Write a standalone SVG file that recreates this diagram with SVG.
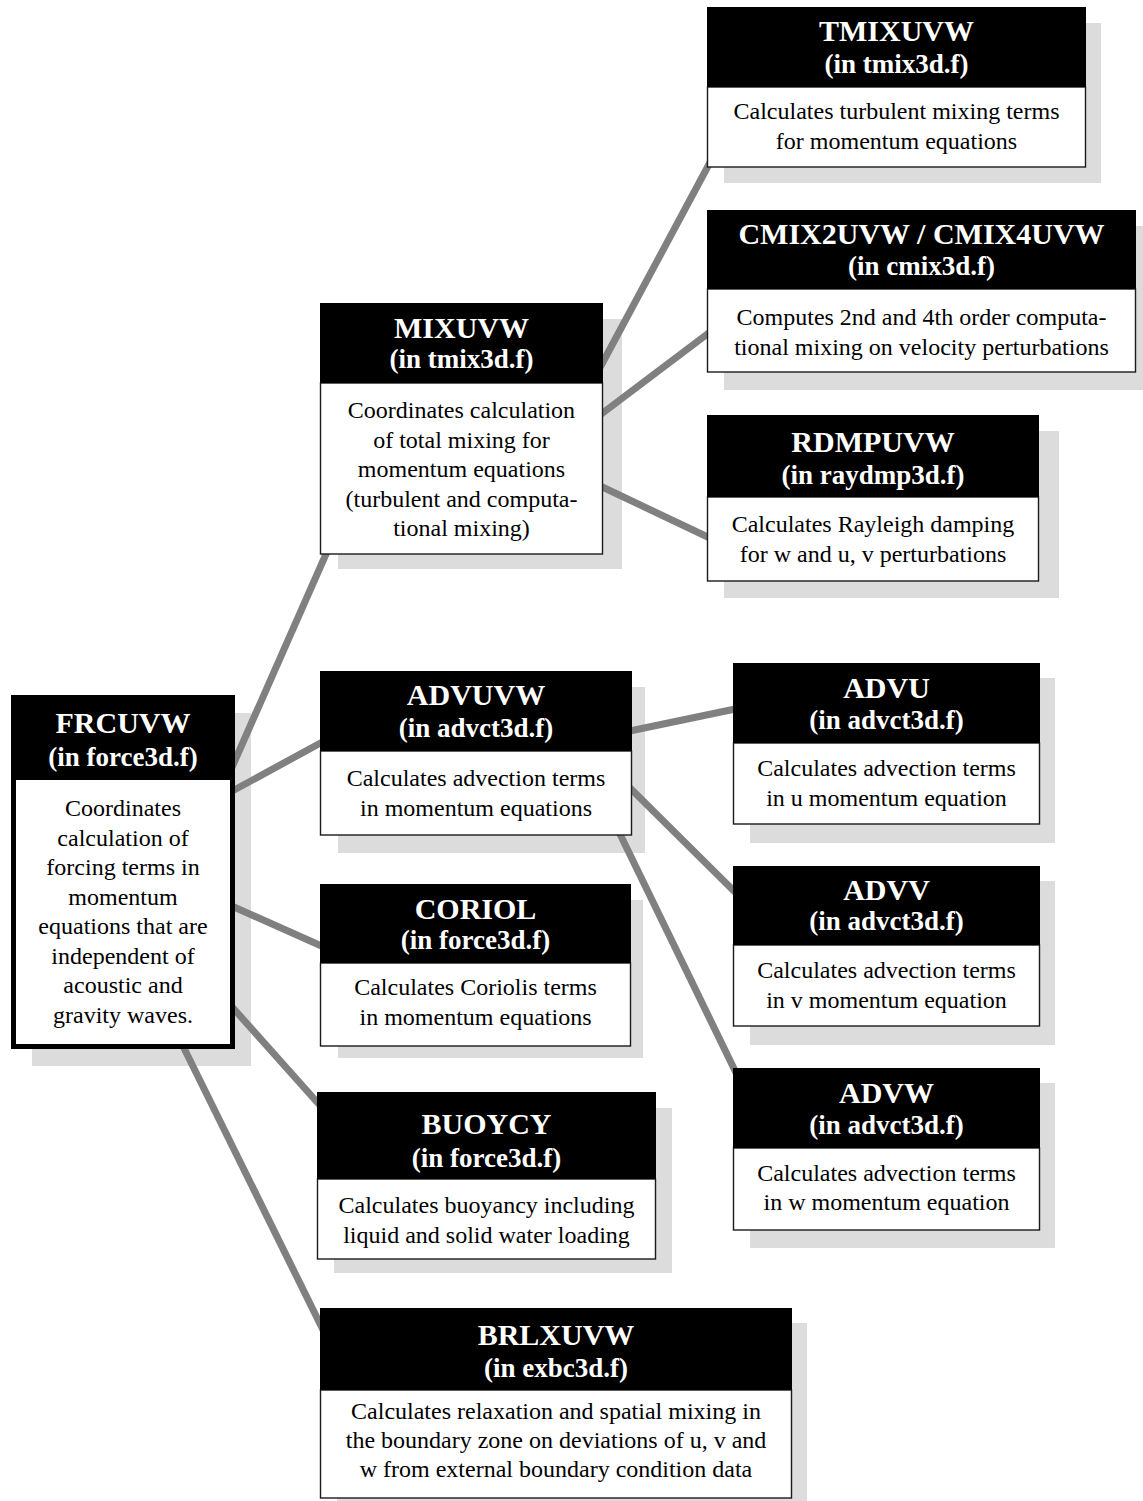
<svg xmlns="http://www.w3.org/2000/svg" width="1143" height="1501" viewBox="0 0 1143 1501">
<style>
.sh{fill:#dcdcdc}
.hd{fill:#000}
.bd{fill:#fff;stroke:#1a1a1a;stroke-width:1.4}
.t{font-family:"Liberation Serif","Times New Roman",serif;font-weight:bold;font-size:30px;fill:#fff;text-anchor:middle}
.s{font-family:"Liberation Serif","Times New Roman",serif;font-weight:bold;font-size:27px;fill:#fff;text-anchor:middle}
.b{font-family:"Liberation Serif","Times New Roman",serif;font-size:24px;fill:#000;text-anchor:middle}
.c{stroke:#808080;stroke-width:7;fill:none}
</style>
<rect width="1143" height="1501" fill="#fff"/>
<g id="shadows">
<rect class="sh" x="724" y="23" width="377" height="160"/>
<rect class="sh" x="724" y="226" width="430" height="164"/>
<rect class="sh" x="724" y="431" width="335" height="167"/>
<rect class="sh" x="338" y="319" width="284" height="250"/>
<rect class="sh" x="32" y="713" width="219" height="353"/>
<rect class="sh" x="338" y="687" width="307" height="166"/>
<rect class="sh" x="750" y="678" width="305" height="165"/>
<rect class="sh" x="750" y="881" width="305" height="164"/>
<rect class="sh" x="750" y="1083" width="305" height="165"/>
<rect class="sh" x="338" y="900" width="305" height="158"/>
<rect class="sh" x="334" y="1108" width="338" height="165"/>
<rect class="sh" x="337" y="1323" width="470" height="178"/>
</g>
<g id="connectors">
<line class="c" x1="330" y1="545" x2="229" y2="774"/>
<line class="c" x1="225" y1="795" x2="326" y2="740"/>
<line class="c" x1="225" y1="903" x2="326" y2="948"/>
<line class="c" x1="225" y1="999" x2="325" y2="1111"/>
<line class="c" x1="180" y1="1040" x2="326" y2="1336"/>
<line class="c" x1="596" y1="375" x2="714" y2="155"/>
<line class="c" x1="596" y1="418" x2="714" y2="329"/>
<line class="c" x1="596" y1="484" x2="714" y2="540"/>
<line class="c" x1="625" y1="732" x2="740" y2="708"/>
<line class="c" x1="625" y1="783" x2="742" y2="899"/>
<line class="c" x1="618" y1="830" x2="740" y2="1081"/>
</g>
<g id="TMIXUVW">
<rect class="bd" x="707.5" y="87" width="378" height="80"/>
<rect class="hd" x="707" y="7" width="379" height="80"/>
<text class="t" x="896.5" y="41">TMIXUVW</text>
<text class="s" x="896.5" y="73">(in tmix3d.f)</text>
<text class="b" x="896.5" y="119">Calculates turbulent mixing terms</text>
<text class="b" x="896.5" y="149">for momentum equations</text>
</g>
<g id="CMIX2UVW">
<rect class="bd" x="707.5" y="289" width="428" height="83"/>
<rect class="hd" x="707" y="210" width="429" height="79"/>
<text class="t" x="921.5" y="244">CMIX2UVW / CMIX4UVW</text>
<text class="s" x="921.5" y="275">(in cmix3d.f)</text>
<text class="b" x="921.5" y="325">Computes 2nd and 4th order computa-</text>
<text class="b" x="921.5" y="355">tional mixing on velocity perturbations</text>
</g>
<g id="RDMPUVW">
<rect class="bd" x="707.5" y="497" width="331" height="84"/>
<rect class="hd" x="707" y="415" width="332" height="82"/>
<text class="t" x="873" y="452">RDMPUVW</text>
<text class="s" x="873" y="484">(in raydmp3d.f)</text>
<text class="b" x="873" y="532">Calculates Rayleigh damping</text>
<text class="b" x="873" y="562">for w and u, v perturbations</text>
</g>
<g id="MIXUVW">
<rect class="bd" x="320.5" y="383" width="282" height="171"/>
<rect class="hd" x="320" y="303" width="283" height="80"/>
<text class="t" x="461.5" y="338">MIXUVW</text>
<text class="s" x="461.5" y="368">(in tmix3d.f)</text>
<text class="b" x="461.5" y="418">Coordinates calculation</text>
<text class="b" x="461.5" y="447.5">of total mixing for</text>
<text class="b" x="461.5" y="477">momentum equations</text>
<text class="b" x="461.5" y="506.5">(turbulent and computa-</text>
<text class="b" x="461.5" y="536">tional mixing)</text>
</g>
<g id="FRCUVW">
<rect x="13.5" y="697.5" width="219" height="349" fill="#fff" stroke="#000" stroke-width="5"/>
<rect class="hd" x="11" y="695" width="224" height="85"/>
<text class="t" x="123" y="733">FRCUVW</text>
<text class="s" x="123" y="766">(in force3d.f)</text>
<text class="b" x="123" y="816">Coordinates</text>
<text class="b" x="123" y="845.5">calculation of</text>
<text class="b" x="123" y="875">forcing terms in</text>
<text class="b" x="123" y="904.5">momentum</text>
<text class="b" x="123" y="934">equations that are</text>
<text class="b" x="123" y="963.5">independent of</text>
<text class="b" x="123" y="993">acoustic and</text>
<text class="b" x="123" y="1022.5">gravity waves.</text>
</g>
<g id="ADVUVW">
<rect class="bd" x="320.5" y="751" width="311" height="84"/>
<rect class="hd" x="320" y="671" width="312" height="80"/>
<text class="t" x="476" y="705">ADVUVW</text>
<text class="s" x="476" y="737">(in advct3d.f)</text>
<text class="b" x="476" y="786">Calculates advection terms</text>
<text class="b" x="476" y="816">in momentum equations</text>
</g>
<g id="ADVU">
<rect class="bd" x="733.5" y="743" width="306" height="81"/>
<rect class="hd" x="733" y="663" width="307" height="80"/>
<text class="t" x="886.5" y="698">ADVU</text>
<text class="s" x="886.5" y="729">(in advct3d.f)</text>
<text class="b" x="886.5" y="776">Calculates advection terms</text>
<text class="b" x="886.5" y="806">in u momentum equation</text>
</g>
<g id="ADVV">
<rect class="bd" x="733.5" y="945" width="306" height="81"/>
<rect class="hd" x="733" y="866" width="307" height="79"/>
<text class="t" x="886.5" y="900">ADVV</text>
<text class="s" x="886.5" y="930">(in advct3d.f)</text>
<text class="b" x="886.5" y="978">Calculates advection terms</text>
<text class="b" x="886.5" y="1008">in v momentum equation</text>
</g>
<g id="ADVW">
<rect class="bd" x="733.5" y="1148" width="306" height="82"/>
<rect class="hd" x="733" y="1068" width="307" height="80"/>
<text class="t" x="886.5" y="1103">ADVW</text>
<text class="s" x="886.5" y="1134">(in advct3d.f)</text>
<text class="b" x="886.5" y="1181">Calculates advection terms</text>
<text class="b" x="886.5" y="1210">in w momentum equation</text>
</g>
<g id="CORIOL">
<rect class="bd" x="320.5" y="963" width="310" height="83"/>
<rect class="hd" x="320" y="884" width="311" height="79"/>
<text class="t" x="475.5" y="919">CORIOL</text>
<text class="s" x="475.5" y="949">(in force3d.f)</text>
<text class="b" x="475.5" y="995">Calculates Coriolis terms</text>
<text class="b" x="475.5" y="1025">in momentum equations</text>
</g>
<g id="BUOYCY">
<rect class="bd" x="317.5" y="1179" width="338" height="80"/>
<rect class="hd" x="317" y="1092" width="339" height="87"/>
<text class="t" x="486.5" y="1134">BUOYCY</text>
<text class="s" x="486.5" y="1167">(in force3d.f)</text>
<text class="b" x="486.5" y="1213">Calculates buoyancy including</text>
<text class="b" x="486.5" y="1243">liquid and solid water loading</text>
</g>
<g id="BRLXUVW">
<rect class="bd" x="320.5" y="1390" width="471" height="108"/>
<rect class="hd" x="320" y="1308" width="472" height="82"/>
<text class="t" x="556" y="1345">BRLXUVW</text>
<text class="s" x="556" y="1377">(in exbc3d.f)</text>
<text class="b" x="556" y="1419">Calculates relaxation and spatial mixing in</text>
<text class="b" x="556" y="1448">the boundary zone on deviations of u, v and</text>
<text class="b" x="556" y="1477">w from external boundary condition data</text>
</g>
</svg>
